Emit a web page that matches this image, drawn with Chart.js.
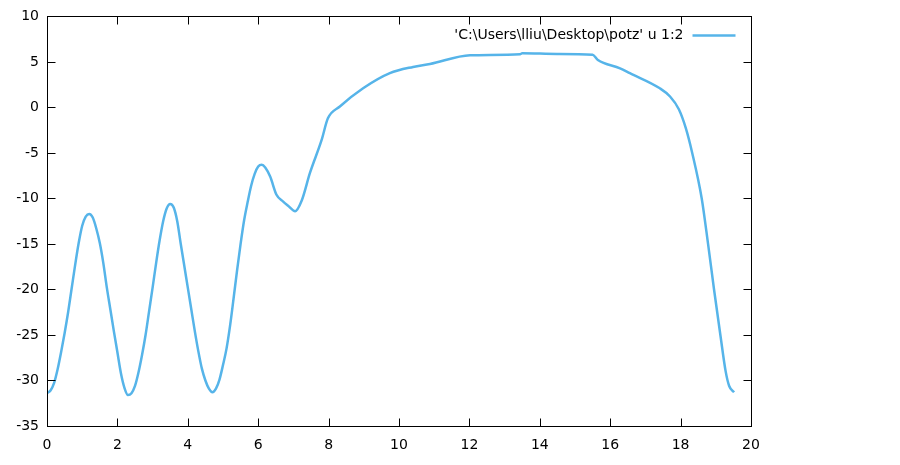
<!DOCTYPE html>
<html>
<head>
<meta charset="utf-8">
<script src="https://cdn.jsdelivr.net/npm/chart.js@4/dist/chart.umd.min.js"></script>
<style>
  html, body { margin: 0; padding: 0; background: #fff; }
  #wrap { width: 900px; height: 465px; }
</style>
</head>
<body>
<div id="wrap"><canvas id="grafico" width="900" height="465"></canvas></div>
<script>
// dati (colonne 1:2 del file potz)
const serieLabel = "'C:\\Users\\lliu\\Desktop\\potz' u 1:2";
const xVals = [0, 0.1, 0.2, 0.3, 0.4, 0.5, 0.6, 0.7, 0.8, 0.9, 1.0, 1.1, 1.2,
  1.3, 1.4, 1.5, 1.6, 1.7, 1.8, 1.9, 2.0, 2.1, 2.2, 2.3, 2.4,
  2.5, 2.6, 2.7, 2.8, 2.9, 3.0, 3.1, 3.2, 3.3, 3.4, 3.5,
  3.6, 3.7, 3.8, 3.9, 4.0, 4.1, 4.2, 4.3, 4.4, 4.5, 4.6, 4.7,
  4.8, 4.9, 5.0, 5.1, 5.2, 5.3, 5.4, 5.5, 5.6, 5.7, 5.8, 5.9, 6.0, 6.1,
  6.2, 6.34, 6.52, 6.71, 6.85, 7.05, 7.24, 7.47, 7.80, 7.98, 8.32,
  8.98, 9.74, 10.4, 10.88, 12.02, 13.44, 13.5, 14.49, 15.5, 15.65, 16.28, 16.56, 17.41, 17.7,
  17.95, 18.15, 18.33, 18.6, 18.78, 18.95, 19.13, 19.28, 19.38, 19.52];
const yVals = [-31.4, -31.1, -30.3, -28.8, -26.9, -24.8, -22.5, -19.9, -17.3, -14.9, -13.0, -12.0, -11.7,
  -12.1, -13.3, -14.9, -17.1, -19.8, -22.2, -24.6, -26.9, -29.2, -30.8, -31.6, -31.4,
  -30.6, -29.1, -27.2, -25.0, -22.4, -19.8, -17.1, -14.6, -12.5, -11.1, -10.6,
  -11.0, -12.5, -15.0, -17.4, -19.8, -22.2, -24.6, -26.8, -28.7, -30.0, -30.9, -31.3,
  -30.9, -29.9, -28.3, -26.5, -24.0, -21.0, -17.9, -15.0, -12.4, -10.4, -8.6, -7.3, -6.5, -6.3,
  -6.6, -7.6, -9.6, -10.35, -10.8, -11.4, -10.2, -7.2, -3.6, -1.2, 0.1,
  2.1, 3.76, 4.45, 4.78, 5.74, 5.85, 5.95, 5.88, 5.8, 5.2, 4.3, 3.76, 2.1, 1.2,
  -0.2, -2.3, -5, -10, -15, -20, -25, -29, -30.6, -31.3];
const xTicks = [0, 2, 4, 6, 8, 10, 12, 14, 16, 18, 20];
const yTicks = [-35, -30, -25, -20, -15, -10, -5, 0, 5, 10];

const punti = xVals.map((x, i) => ({ x: x, y: yVals[i] }));
const font = { family: "'DejaVu Sans', sans-serif", size: 14 };

// cornice e tacche interne stile gnuplot, piu' la chiave in alto a destra
const cornice = {
  id: 'cornice',
  afterDatasetsDraw(chart) {
    const { ctx, chartArea: a, scales } = chart;
    ctx.save();
    ctx.strokeStyle = '#000';
    ctx.lineWidth = 1;
    const l = Math.round(a.left) + 0.5, r = Math.round(a.right) + 0.5;
    const t = Math.round(a.top) + 0.5, b = Math.round(a.bottom) + 0.5;
    ctx.strokeRect(l, t, r - l, b - t);
    ctx.beginPath();
    xTicks.forEach(v => {
      const px = Math.round(scales.x.getPixelForValue(v)) + 0.5;
      ctx.moveTo(px, b); ctx.lineTo(px, b - 8);
      ctx.moveTo(px, t); ctx.lineTo(px, t + 8);
    });
    yTicks.forEach(v => {
      const py = Math.round(scales.y.getPixelForValue(v)) + 0.5;
      ctx.moveTo(l, py); ctx.lineTo(l + 8, py);
      ctx.moveTo(r, py); ctx.lineTo(r - 8, py);
    });
    ctx.stroke();

    // chiave
    const ds = chart.data.datasets[0];
    const ky = a.top + 19;
    ctx.font = font.size + 'px ' + font.family;
    ctx.fillStyle = '#000';
    ctx.textAlign = 'right';
    ctx.textBaseline = 'middle';
    ctx.fillText(ds.label, r - 68, ky);
    ctx.strokeStyle = ds.borderColor;
    ctx.lineWidth = 2.5;
    ctx.beginPath();
    ctx.moveTo(r - 59, ky);
    ctx.lineTo(r - 16, ky);
    ctx.stroke();
    ctx.restore();
  }
};

new Chart(document.getElementById('grafico').getContext('2d'), {
  type: 'scatter',
  data: {
    datasets: [{
      label: serieLabel,
      data: punti,
      showLine: true,
      borderColor: '#56b4e9',
      backgroundColor: '#56b4e9',
      borderWidth: 2.5,
      pointRadius: 0,
      cubicInterpolationMode: 'monotone'
    }]
  },
  options: {
    responsive: false,
    animation: false,
    layout: { padding: { top: 16, right: 149, left: 0, bottom: 0 } },
    plugins: { legend: { display: false }, tooltip: { enabled: false } },
    scales: {
      x: {
        type: 'linear', min: 0, max: 20,
        afterBuildTicks: s => { s.ticks = xTicks.map(v => ({ value: v })); },
        afterFit: s => { s.height = 39; },
        grid: { display: false, drawTicks: false },
        border: { display: false },
        ticks: { color: '#000', font: font, padding: 11, maxRotation: 0 }
      },
      y: {
        type: 'linear', min: -35, max: 10,
        afterBuildTicks: s => { s.ticks = yTicks.map(v => ({ value: v })); },
        afterFit: s => { s.width = 47; },
        grid: { display: false, drawTicks: false },
        border: { display: false },
        ticks: { color: '#000', font: font, padding: 8 }
      }
    }
  },
  plugins: [cornice]
});
</script>
</body>
</html>
